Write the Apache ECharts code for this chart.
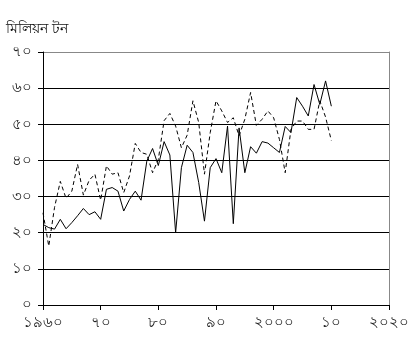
<!DOCTYPE html>
<html><head><meta charset="utf-8">
<script src="https://cdn.jsdelivr.net/npm/echarts@6/dist/echarts.min.js"></script>
<style>html,body{margin:0;padding:0;background:#fff;}#c{width:415px;height:351px;}</style>
</head><body><div id="c"></div>
<script>
const years = [];
for (let y = 1960; y <= 2010; y++) years.push(y);
const solidSeries = [22.3,21.4,21,23.7,21.1,22.8,24.7,26.7,25,25.8,23.7,32,32.5,31.5,26,29.2,31.5,29,39.8,43.3,38.6,45.2,41.5,20,38,44.2,42.2,33.9,23.2,38,40.5,36.6,49.5,22.5,49,36.6,43.8,42,45.2,44.8,43.5,42.2,49.4,47.7,57.4,55,52.3,61,55.5,62,55];
const dashedSeries = [25.5,16.3,27,34.2,29.5,31.5,38.9,30.4,34.5,36.2,29,38.5,36.2,36.6,31.1,35.7,44.7,42.2,41.7,36.6,40.3,51,53,49.5,43.5,47,56.5,50.5,36.2,47.7,56.5,53.7,50.5,51.8,46.8,51.4,58.8,49.7,51.4,53.7,51.8,45.8,36.6,48.6,50.9,50.9,48.6,48.6,56.5,52,45.5];
const yTickLabels = {0:'০',10:'১০',20:'২০',30:'৩০',40:'৪০',50:'৫০',60:'৬০',70:'৭০'};
const xTickLabels = {1960:'১৯৬০',1970:'৭০',1980:'৮০',1990:'৯০',2000:'২০০০',2010:'১০',2020:'২০২০'};
const unitTitle = 'মিলিয়ন টন';

const toPairs = arr => arr.map((v,i) => [years[i], v]);
const chart = echarts.init(document.getElementById('c'), null, {renderer:'canvas'});
const font = "'Noto Sans', 'DejaVu Sans', sans-serif";
chart.setOption({
  animation:false,
  backgroundColor:'#fff',
  title:{text:unitTitle,left:1,top:17,textStyle:{fontSize:14,fontWeight:'normal',color:'#111',fontFamily:font}},
  grid:{left:43,right:26,top:52,bottom:46},
  xAxis:{type:'value',min:1960,max:2020,interval:10,
    axisLine:{lineStyle:{color:'#000',width:1}},
    axisTick:{show:true,length:5,lineStyle:{color:'#000'}},
    axisLabel:{margin:10,fontSize:15,color:'#222',fontFamily:font,formatter:v=>xTickLabels[v]||''},
    splitLine:{show:false}},
  yAxis:[{type:'value',min:0,max:70,interval:10,
    axisLine:{show:true,lineStyle:{color:'#000',width:1}},
    axisTick:{show:true,length:5,lineStyle:{color:'#000'}},
    axisLabel:{margin:11,fontSize:15,color:'#222',fontFamily:font,formatter:v=>yTickLabels[v]||''},
    splitLine:{show:true,lineStyle:{color:['#000','#000','#000','#000','#000','#000','#000','#888'],width:1}}},
   {type:'value',min:0,max:70,interval:10,position:'right',
    axisLine:{show:true,lineStyle:{color:'#888',width:1}},
    axisTick:{show:false},axisLabel:{show:false},splitLine:{show:false}}],
  series:[
    {type:'line',data:toPairs(solidSeries),showSymbol:false,symbol:'none',
     lineStyle:{color:'#000',width:1,type:'solid'}},
    {type:'line',data:toPairs(dashedSeries),showSymbol:false,symbol:'none',
     lineStyle:{color:'#000',width:1,type:[4,3]}}
  ]
});
</script></body></html>
